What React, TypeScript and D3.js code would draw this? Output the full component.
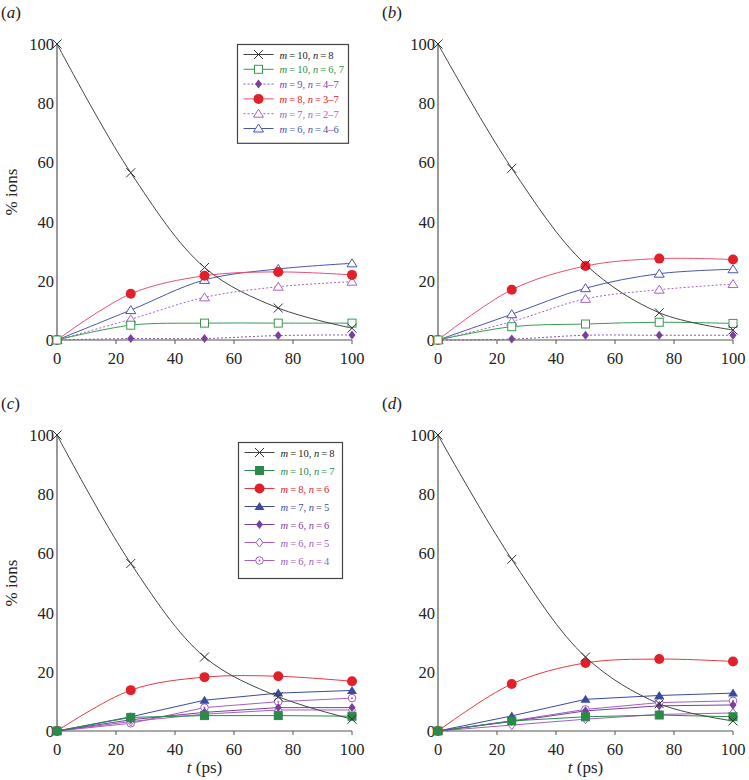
import React from "react";
import * as d3 from "d3";

const times = [0, 25, 50, 75, 100];
const yTicks = [0, 20, 40, 60, 80, 100];
const xTicks = [0, 20, 40, 60, 80, 100];

// Panel (a)
const aM10n8 = [100, 56.5, 24.5, 10.8, 4];
const aM10n67 = [0, 5, 5.7, 5.7, 5.7];
const aM9n47 = [0, 0.5, 0.5, 1.5, 1.7];
const aM8n37 = [0, 15.6, 21.7, 23, 22];
const aM7n27 = [0, 7, 14.4, 18, 19.7];
const aM6n46 = [0, 10.1, 20.3, 24, 25.9];

// Panel (b)
const bM10n8 = [100, 58, 25.5, 9.2, 3.4];
const bM10n67 = [0, 4.5, 5.4, 6, 5.6];
const bM9n47 = [0, 0.3, 1.6, 1.6, 1.6];
const bM8n37 = [0, 17, 25, 27.5, 27.2];
const bM7n27 = [0, 6.2, 13.9, 17, 18.9];
const bM6n46 = [0, 8.7, 17.5, 22.4, 23.9];

// Panel (c)
const cM10n8 = [100, 56.6, 25, 11.6, 4];
const cM10n7 = [0, 4.6, 5.2, 5.2, 5];
const cM8n6 = [0, 13.8, 18.2, 18.5, 16.8];
const cM7n5 = [0, 4.8, 10.4, 12.8, 13.7];
const cM6n6 = [0, 3.8, 6.3, 7.9, 7.9];
const cM6n5 = [0, 3.2, 5.7, 7.1, 7.1];
const cM6n4 = [0, 2.6, 7.9, 9.9, 11.1];

// Panel (d)
const dM10n8 = [100, 58, 25, 9.2, 3.4];
const dM10n7 = [0, 3.4, 4.8, 5.4, 4.8];
const dM8n6 = [0, 15.9, 23, 24.3, 23.5];
const dM7n5 = [0, 5.1, 10.7, 12, 12.8];
const dM6n6 = [0, 3.2, 6.8, 8.5, 8.8];
const dM6n5 = [0, 2, 4, 5.6, 6.1];
const dM6n4 = [0, 3.4, 7.3, 9.6, 10.2];

const topLabels = [
  ["10", "8"],
  ["10", "6, 7"],
  ["9", "4–7"],
  ["8", "3–7"],
  ["7", "2–7"],
  ["6", "4–6"],
];
const bottomLabels = [
  ["10", "8"],
  ["10", "7"],
  ["8", "6"],
  ["7", "5"],
  ["6", "6"],
  ["6", "5"],
  ["6", "4"],
];

type Style = {
  color: string;
  lineColor: string;
  marker: string;
  dash?: string;
  curve: boolean;
  textColor: string;
};

const topStyles: Style[] = [
  { color: "#333", lineColor: "#444", marker: "x", curve: true, textColor: "#222" },
  { color: "#3a9a50", lineColor: "#3a9a50", marker: "osq", curve: true, textColor: "#2f8f48" },
  { color: "#7a3f9e", lineColor: "#8a55b0", marker: "fdia", dash: "2,2", curve: true, textColor: "#7a3f9e" },
  { color: "#e2202a", lineColor: "#e8506e", marker: "fcirc", curve: true, textColor: "#e2202a" },
  { color: "#a464c4", lineColor: "#a464c4", marker: "otri", dash: "2,2", curve: true, textColor: "#a464c4" },
  { color: "#4a55a8", lineColor: "#4a55a8", marker: "otri", curve: true, textColor: "#4a55a8" },
];

const bottomStyles: Style[] = [
  { color: "#333", lineColor: "#444", marker: "x", curve: true, textColor: "#222" },
  { color: "#2a8a48", lineColor: "#2a8a48", marker: "fsq", curve: false, textColor: "#2a8a48" },
  { color: "#e2202a", lineColor: "#e43a40", marker: "fcirc", curve: true, textColor: "#e2202a" },
  { color: "#3a4aa0", lineColor: "#3a4aa0", marker: "ftri", curve: false, textColor: "#3a4aa0" },
  { color: "#7a3f9e", lineColor: "#7a3f9e", marker: "fdia", curve: false, textColor: "#7a3f9e" },
  { color: "#a060c4", lineColor: "#a060c4", marker: "odia", curve: false, textColor: "#9a5cc0" },
  { color: "#a060c4", lineColor: "#a060c4", marker: "ocirc", curve: false, textColor: "#9a5cc0" },
];

function Marker({ kind, x, y, color }: { kind: string; x: number; y: number; color: string }) {
  switch (kind) {
    case "x":
      return (
        <g stroke={color} strokeWidth={1}>
          <line x1={x - 4.5} y1={y - 4.5} x2={x + 4.5} y2={y + 4.5} />
          <line x1={x - 4.5} y1={y + 4.5} x2={x + 4.5} y2={y - 4.5} />
        </g>
      );
    case "osq":
      return <rect x={x - 4} y={y - 4} width={8} height={8} fill="white" stroke={color} strokeWidth={1} />;
    case "fsq":
      return <rect x={x - 4} y={y - 4} width={8} height={8} fill={color} stroke={color} strokeWidth={1} />;
    case "fdia":
      return <path d={`M${x},${y - 4.5}L${x + 3.5},${y}L${x},${y + 4.5}L${x - 3.5},${y}Z`} fill={color} />;
    case "odia":
      return (
        <path d={`M${x},${y - 4.5}L${x + 3.5},${y}L${x},${y + 4.5}L${x - 3.5},${y}Z`} fill="white" stroke={color} strokeWidth={1} />
      );
    case "fcirc":
      return <circle cx={x} cy={y} r={5} fill={color} />;
    case "ocirc":
      return (
        <g>
          <circle cx={x} cy={y} r={3.8} fill="white" stroke={color} strokeWidth={1} />
          <circle cx={x} cy={y} r={1} fill={color} />
        </g>
      );
    case "otri":
      return <path d={`M${x},${y - 4.5}L${x + 5},${y + 3.5}L${x - 5},${y + 3.5}Z`} fill="white" stroke={color} strokeWidth={1} />;
    case "ftri":
      return <path d={`M${x},${y - 4.5}L${x + 5},${y + 3.5}L${x - 5},${y + 3.5}Z`} fill={color} />;
    default:
      return null;
  }
}

const serif = "Liberation Serif, Times New Roman, DejaVu Serif, serif";
const thin = "\u2009";

function Panel({
  left,
  bottom,
  series,
  styles,
  label,
  showYLabel,
  showXLabel,
  legend,
}: {
  left: number;
  bottom: number;
  series: number[][];
  styles: Style[];
  label: string;
  showYLabel: boolean;
  showXLabel: boolean;
  legend?: { labels: string[][]; x: number; y: number; w: number; rowH: number };
}) {
  const x = d3.scaleLinear().domain([0, 100]).range([left, left + 295]);
  const y = d3.scaleLinear().domain([0, 100]).range([bottom, bottom - 296]);
  const smooth = d3
    .line<number>()
    .x((_, i) => x(times[i]))
    .y((v) => y(v))
    .curve(d3.curveCatmullRom.alpha(0.5));
  const straight = d3
    .line<number>()
    .x((_, i) => x(times[i]))
    .y((v) => y(v));
  const order = series.map((_, i) => i);
  return (
    <g style={{ fontFamily: serif }}>
      <text x={left - 56} y={bottom - 322} fontSize={17} fill="#222">
        (<tspan fontStyle="italic">{label}</tspan>)
      </text>
      {/* axes */}
      <line x1={x(0)} y1={y(0)} x2={x(0)} y2={y(100)} stroke="#555" strokeWidth={1.2} />
      <line x1={x(0)} y1={y(0)} x2={x(100)} y2={y(0)} stroke="#555" strokeWidth={1.2} />
      {xTicks.map((t) => (
        <g key={t}>
          <line x1={x(t)} y1={y(0)} x2={x(t)} y2={y(0) + 4} stroke="#555" strokeWidth={1} />
          <text x={x(t)} y={y(0) + 24} textAnchor="middle" fontSize={16.5} fill="#222">
            {t}
          </text>
        </g>
      ))}
      {yTicks.map((t) => (
        <text key={t} x={x(0) - 3} y={y(t) + 6} textAnchor="end" fontSize={16.5} fill="#222">
          {t}
        </text>
      ))}
      {showYLabel && (
        <text
          transform={`translate(${left - 40},${y(50)}) rotate(-90)`}
          textAnchor="middle"
          fontSize={17}
          fill="#222"
        >
          % ions
        </text>
      )}
      {showXLabel && (
        <text x={x(50)} y={y(0) + 42} textAnchor="middle" fontSize={17} fill="#222">
          <tspan fontStyle="italic">t</tspan> (ps)
        </text>
      )}
      {order
        .slice()
        .reverse()
        .map((i) => {
          const s = styles[i];
          return (
            <path
              key={"l" + i}
              d={(s.curve ? smooth : straight)(series[i]) || ""}
              fill="none"
              stroke={s.lineColor}
              strokeWidth={1}
              strokeDasharray={s.dash}
            />
          );
        })}
      {order
        .slice()
        .reverse()
        .map((i) => (
          <g key={"m" + i}>
            {series[i].map((v, j) => (
              <Marker key={j} kind={styles[i].marker} x={x(times[j])} y={y(v)} color={styles[i].color} />
            ))}
          </g>
        ))}
      {legend && (
        <g>
          <rect
            x={legend.x}
            y={legend.y}
            width={legend.w}
            height={legend.labels.length * legend.rowH + 10}
            fill="white"
            stroke="#444"
            strokeWidth={1.2}
          />
          {legend.labels.map((lab, i) => {
            const s = styles[i];
            const cy = legend.y + 10 + i * legend.rowH;
            return (
              <g key={i}>
                <line
                  x1={legend.x + 6}
                  x2={legend.x + 36}
                  y1={cy}
                  y2={cy}
                  stroke={s.lineColor}
                  strokeWidth={1}
                  strokeDasharray={s.dash}
                />
                <Marker kind={s.marker} x={legend.x + 21} y={cy} color={s.color} />
                <text x={legend.x + 42} y={cy + 4} fontSize={10.5} fill={s.textColor}>
                  <tspan fontStyle="italic">m</tspan>
                  {`${thin}=${thin}${lab[0]}, `}
                  <tspan fontStyle="italic">n</tspan>
                  {`${thin}=${thin}${lab[1]}`}
                </text>
              </g>
            );
          })}
        </g>
      )}
    </g>
  );
}

export default function App() {
  const topA = [aM10n8, aM10n67, aM9n47, aM8n37, aM7n27, aM6n46];
  const topB = [bM10n8, bM10n67, bM9n47, bM8n37, bM7n27, bM6n46];
  const botC = [cM10n8, cM10n7, cM8n6, cM7n5, cM6n6, cM6n5, cM6n4];
  const botD = [dM10n8, dM10n7, dM8n6, dM7n5, dM6n6, dM6n5, dM6n4];
  return (
    <div style={{ position: "absolute", left: 0, top: 0 }}>
      <svg width={749} height={780} style={{ display: "block", background: "white" }}>
        <Panel
          left={57}
          bottom={340}
          series={topA}
          styles={topStyles}
          label="a"
          showYLabel
          showXLabel={false}
          legend={{ labels: topLabels, x: 237.5, y: 44.5, w: 111, rowH: 14.8 }}
        />
        <Panel left={438} bottom={340} series={topB} styles={topStyles} label="b" showYLabel={false} showXLabel={false} />
        <Panel
          left={57}
          bottom={731}
          series={botC}
          styles={bottomStyles}
          label="c"
          showYLabel
          showXLabel
          legend={{ labels: bottomLabels, x: 238.5, y: 442.5, w: 104, rowH: 18 }}
        />
        <Panel left={438} bottom={731} series={botD} styles={bottomStyles} label="d" showYLabel={false} showXLabel />
      </svg>
    </div>
  );
}
